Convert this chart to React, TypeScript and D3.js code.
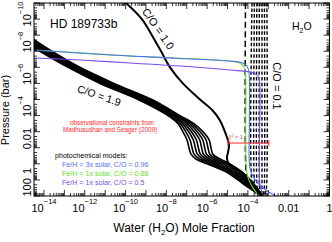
import React from "react";
import * as d3 from "d3";

// ---- values (log10 units) ----

// C/O = 1.9 family: shared log10 pressure grid (bar) and log10 H2O mole fraction per model
const co19LogP = [-8, -7, -6, -5, -4, -3, -2.5, -2, -1.5, -1, -0.6, -0.3, 0, 0.5, 1, 1.5, 2];
const co19Models = [
  [-15.47, -14.2, -12.82, -11.25, -9.39, -7.92, -7.43, -7.19, -6.99, -6.89, -6.79, -6.55, -6.01, -5.08, -4.49, -3.95, -3.31],
  [-15.38, -14.12, -12.74, -11.15, -9.29, -7.84, -7.32, -7.05, -6.84, -6.74, -6.64, -6.38, -5.85, -4.97, -4.41, -3.9, -3.31],
  [-15.29, -14.03, -12.65, -11.06, -9.2, -7.75, -7.21, -6.91, -6.68, -6.58, -6.48, -6.21, -5.69, -4.85, -4.32, -3.85, -3.31],
  [-15.2, -13.95, -12.57, -10.96, -9.1, -7.67, -7.1, -6.77, -6.53, -6.43, -6.33, -6.04, -5.53, -4.74, -4.24, -3.8, -3.31],
  [-15.1, -13.86, -12.49, -10.86, -9.0, -7.58, -6.98, -6.63, -6.37, -6.27, -6.18, -5.88, -5.36, -4.63, -4.15, -3.76, -3.31],
  [-15.01, -13.78, -12.41, -10.76, -8.9, -7.5, -6.87, -6.49, -6.22, -6.12, -6.03, -5.71, -5.2, -4.52, -4.07, -3.71, -3.31],
  [-14.92, -13.69, -12.32, -10.67, -8.81, -7.41, -6.76, -6.35, -6.06, -5.96, -5.87, -5.54, -5.04, -4.4, -3.98, -3.66, -3.31],
  [-14.83, -13.61, -12.24, -10.57, -8.71, -7.33, -6.65, -6.21, -5.91, -5.81, -5.72, -5.37, -4.88, -4.29, -3.9, -3.61, -3.31],
];

// C/O = 1.0
const co10LogP = [-10, -9, -8, -7, -6, -5, -4, -3.3, -2.7, -2, -1.2, -0.7, -0.35, 0, 0.5, 1, 1.5, 2];
const co10LogX = [-9.98, -9.2, -8.71, -8.26, -7.82, -7.19, -6.35, -5.72, -5.37, -5.13, -4.93, -4.98, -5.03, -4.93, -4.34, -3.9, -3.56, -3.31];

// C/O = 0.1 (dashed): one long-dash model and a block of short-dash models
const co01MainLogP = [-10, 0, 0.95, 1.5, 2];
const co01MainLogX = [-4.12, -4.11, -4.05, -3.8, -3.31];
const co01BlockLogP = [-10, 1.3, 1.7, 2];
const co01Block = [
  [-3.8, -3.8, -3.7, -3.5],
  [-3.68, -3.68, -3.62, -3.45],
  [-3.56, -3.56, -3.52, -3.4],
  [-3.44, -3.44, -3.42, -3.36],
  [-3.31, -3.31, -3.31, -3.31],
  [-3.19, -3.19, -3.21, -3.26],
  [-3.07, -3.08, -3.12, -3.22],
];

// photochemical models
const blueLogX = [-14.6, -12.24, -9.78, -7.33, -4.88, -4.25, -4.05, -3.95, -3.93, -3.9, -3.71, -3.31, -2.82, -2.58];
const blueLogP = [-7.09, -6.89, -6.7, -6.55, -6.39, -6.27, -6.08, -5.71, -2.72, 0.26, 0.88, 1.44, 1.88, 2.0];
const greenLogX = [-14.6, -9.78, -4.88, -4.39, -4.2, -4.12, -4.1, -4.07, -3.95, -3.71, -3.46];
const greenLogP = [-7.09, -6.7, -6.39, -6.25, -6.05, -5.58, -3.97, 0.39, 1.01, 1.57, 2.0];
const purpleLogX = [-14.6, -12.24, -9.78, -7.33, -4.88, -3.9, -3.61, -3.46, -3.41, -3.41, -3.31, -3.22];
const purpleLogP = [-6.59, -6.46, -6.27, -6.08, -5.83, -5.71, -5.58, -5.34, -4.59, 1.32, 1.75, 2.0];

// Madhusudhan & Seager (2009) constraint
const obsRange = [1.05e-5, 1.07e-3];
const obsPressure = 0.051;

const legendLabels = [
  "Fe/H = 3x solar, C/O = 0.96",
  "Fe/H = 1x solar, C/O = 0.88",
  "Fe/H = 1x solar, C/O = 0.5",
];
const legendColors = ["#4f6ef7", "#66e02a", "#7a4cf0"];

const xLabelVals = [1e-14, 1e-12, 1e-10, 1e-8, 1e-6, 1e-4, 0.01, 1];
const xLabels = [["10", "−14"], ["10", "−12"], ["10", "−10"], ["10", "−8"], ["10", "−6"], ["10", "−4"], ["0.01", ""], ["1", ""]];
const yLabelVals = [1e-10, 1e-8, 1e-6, 1e-4, 0.01, 1, 100];
const yLabels = [["10", "−10"], ["10", "−8"], ["10", "−6"], ["10", "−4"], ["0.01", ""], ["1", ""], ["100", ""]];

const font = "'Liberation Sans', Arial, Helvetica, sans-serif";

export default function App() {
  const x = d3.scaleLog().domain([10 ** -14.49, 1]).range([34, 329.5]);
  const y = d3.scaleLog().domain([1e-10, 100]).range([3, 196]);
  const [x0, x1] = x.range();
  const [y0, y1] = y.range();

  const line = d3
    .line<[number, number]>()
    .x((d) => x(10 ** d[0]))
    .y((d) => y(10 ** d[1]))
    .curve(d3.curveCatmullRom.alpha(0.5));
  const path = (lx: number[], lp: number[]) =>
    line(lx.map((v, i) => [v, lp[i]] as [number, number])) || "";

  // ticks
  const xMajor = d3.range(-14, 1).map((e) => 10 ** e);
  const xMinor = d3
    .range(-15, 0)
    .flatMap((e) => d3.range(2, 10).map((k) => k * 10 ** e))
    .filter((v) => v >= x.domain()[0] && v <= 1);
  const yMajor = d3.range(-10, 3).map((e) => 10 ** e);
  const yMinor = d3.range(-10, 2).flatMap((e) => d3.range(2, 10).map((k) => k * 10 ** e));

  const obsY = y(obsPressure);

  return (
    <svg
      width={332}
      height={242}
      style={{ position: "absolute", left: 0, top: 0, background: "#fff" }}
      fontFamily={font}
    >
      <defs>
        <clipPath id="plot">
          <rect x={x0} y={y0} width={x1 - x0} height={y1 - y0} />
        </clipPath>
      </defs>

      <g clipPath="url(#plot)" fill="none">
        {co19Models.map((m, i) => (
          <path key={i} d={path(m, co19LogP)} stroke="#000" strokeWidth={1.6} />
        ))}
        <path d={path(co10LogX, co10LogP)} stroke="#000" strokeWidth={2} />
        <path d={path(co01MainLogX, co01MainLogP)} stroke="#000" strokeWidth={1.5} strokeDasharray="6,3.5" />
        {co01Block.map((m, i) => (
          <path key={i} d={path(m, co01BlockLogP)} stroke="#000" strokeWidth={1.4} strokeDasharray="3.5,2.2" />
        ))}
        <path d={path(greenLogX, greenLogP)} stroke={legendColors[1]} strokeWidth={1.1} />
        <path d={path(purpleLogX, purpleLogP)} stroke={legendColors[2]} strokeWidth={1.1} />
        <path d={path(blueLogX, blueLogP)} stroke={legendColors[0]} strokeWidth={1.1} />

        <g stroke="#ff2a2a" strokeWidth={1}>
          <line x1={x(obsRange[0])} x2={x(obsRange[1])} y1={obsY} y2={obsY} />
          <line x1={x(obsRange[0])} x2={x(obsRange[0])} y1={obsY - 3} y2={obsY + 3} />
          <line x1={x(obsRange[1])} x2={x(obsRange[1])} y1={obsY - 3} y2={obsY + 3} />
        </g>
      </g>

      {/* frame and ticks */}
      <rect x={x0} y={y0} width={x1 - x0} height={y1 - y0} fill="none" stroke="#000" strokeWidth={1} />
      <g stroke="#000" strokeWidth={0.8}>
        {xMajor.map((v, i) => (
          <g key={"xM" + i}>
            <line x1={x(v)} x2={x(v)} y1={y1} y2={y1 - 6} />
            <line x1={x(v)} x2={x(v)} y1={y0} y2={y0 + 6} />
          </g>
        ))}
        {xMinor.map((v, i) => (
          <g key={"xm" + i}>
            <line x1={x(v)} x2={x(v)} y1={y1} y2={y1 - 3} />
            <line x1={x(v)} x2={x(v)} y1={y0} y2={y0 + 3} />
          </g>
        ))}
        {yMajor.map((v, i) => (
          <g key={"yM" + i}>
            <line x1={x0} x2={x0 + 6} y1={y(v)} y2={y(v)} />
            <line x1={x1} x2={x1 - 6} y1={y(v)} y2={y(v)} />
          </g>
        ))}
        {yMinor.map((v, i) => (
          <g key={"ym" + i}>
            <line x1={x0} x2={x0 + 3} y1={y(v)} y2={y(v)} />
            <line x1={x1} x2={x1 - 3} y1={y(v)} y2={y(v)} />
          </g>
        ))}
      </g>

      {/* tick labels */}
      {xLabelVals.map((v, i) => (
        <text key={"xl" + i} x={x(v)} y={212} textAnchor="middle" fontSize={11}>
          {xLabels[i][0]}
          {xLabels[i][1] && (
            <tspan dy={-8} fontSize={7.5}>
              {xLabels[i][1]}
            </tspan>
          )}
        </text>
      ))}
      {yLabelVals.map((v, i) => {
        const last = i === yLabelVals.length - 1;
        const cy = last ? y1 + 0.5 : Math.max(y(v) + 7, 14);
        return (
          <text
            key={"yl" + i}
            transform={`translate(31,${cy}) rotate(-90)`}
            textAnchor={last ? "start" : "middle"}
            fontSize={11}
          >
            {yLabels[i][0]}
            {yLabels[i][1] && (
              <tspan dy={-8} fontSize={7.5}>
                {yLabels[i][1]}
              </tspan>
            )}
          </text>
        );
      })}

      {/* axis titles */}
      <text x={184} y={232} textAnchor="middle" fontSize={12}>
        Water (H<tspan dy={3} fontSize={8}>2</tspan>
        <tspan dy={-3}>O) Mole Fraction</tspan>
      </text>
      <text transform="translate(9,110) rotate(-90)" textAnchor="middle" fontSize={11}>
        Pressure (bar)
      </text>

      {/* annotations */}
      <text x={50} y={28} fontSize={12}>HD 189733b</text>
      <text x={292} y={30} fontSize={10.5}>
        H<tspan dy={3} fontSize={7}>2</tspan>
        <tspan dy={-3}>O</tspan>
      </text>
      <text transform="translate(155,31) rotate(55)" textAnchor="middle" fontSize={11}>
        C/O = 1.0
      </text>
      <text transform="translate(98,99) rotate(19)" textAnchor="middle" fontSize={10.5}>
        C/O = 1.9
      </text>
      <text transform="translate(273,86) rotate(90)" textAnchor="middle" fontSize={11}>
        C/O = 0.1
      </text>

      <g fill="#ff2a2a" fontSize={6.3} textAnchor="middle">
        <text x={112} y={124.5}>observational constraints from</text>
        <text x={110} y={132}>Madhusudhan and Seager (2009)</text>
      </g>
      <text x={229} y={139} fill="#ff2a2a" fontSize={5.5}>
        ξ<tspan dy={-2} fontSize={4}>2</tspan>
        <tspan dy={2}> &lt; 1</tspan>
      </text>

      <text x={55} y={158} fontSize={7.1}>photochemical models:</text>
      {legendLabels.map((t, i) => (
        <text key={t} x={62} y={167 + i * 9} fontSize={7.1} fill={legendColors[i]}>
          {t}
        </text>
      ))}
    </svg>
  );
}
